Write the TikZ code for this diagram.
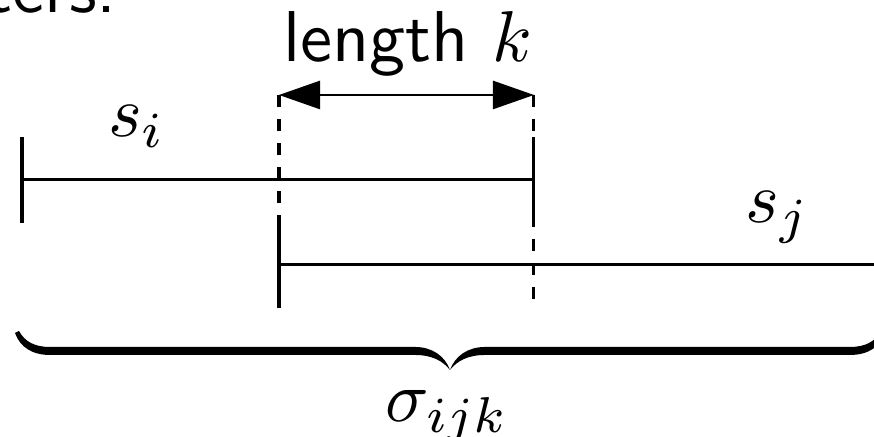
\documentclass[tikz,border=0pt]{standalone}
\usepackage{fontspec}
\usetikzlibrary{arrows.meta,calc}

\begin{document}
\begin{tikzpicture}[
        x=0.1389pt, y=-0.1389pt,
        font=\sffamily,
        seg/.style={line width=0.42pt},
        guide/.style={line width=0.42pt, dash pattern=on 1.67pt off 1.67pt},
        span/.style={{Triangle[length=5.7pt,width=3.9pt]}-{Triangle[length=5.7pt,width=3.9pt]}, line width=0.33pt},
        lbl/.style={inner sep=0pt, anchor=base}
    ]
    \useasboundingbox (0,0) rectangle (874,437);

    % End points of the two strings and of the overlap
    \coordinate (si-l) at (22,180);
    \coordinate (si-r) at (534,180);
    \coordinate (sj-l) at (279,265);
    \coordinate (sj-r) at (880,265);
    \coordinate (k-l)  at (279,95);
    \coordinate (k-r)  at (534,95);

    % Tail of the previous line of the slide
    \node[lbl, anchor=base west] (prev) at (-15,13) {ters.};

    % ---- Strings ----
    \draw[seg] (si-l) -- (si-r);
    \draw[seg] (sj-l) -- (sj-r);
    \foreach \p in {si-l, si-r, sj-l}
        \draw[seg] ($(\p)+(0,-43)$) -- ($(\p)+(0,43)$);
    \node[lbl] (si) at (137,137) {$s_i$};
    \node[lbl] (sj) at (778,223) {$s_j$};

    % ---- Overlap of length k ----
    \draw[guide] (k-l) -- ($(sj-l)+(0,-43)$);
    \draw[guide] (k-r) -- ($(si-r)+(0,125)$);
    \draw[span] (k-l) -- (k-r);
    \node[lbl] (len) at (408,62) {length $k$};

    % ---- Brace over the whole ----
    \fill (19,331) .. controls (25,342) and (35,347) .. (50,347) -- (415,347)
        .. controls (432,347) and (445,356) .. (450,370)
        .. controls (455,356) and (468,347) .. (485,347) -- (850,347)
        .. controls (865,347) and (875,342) .. (881,331)
        -- (885,333) .. controls (880,347) and (868,355) .. (850,355) -- (485,355)
        .. controls (468,355) and (457,361) .. (450,370)
        .. controls (443,361) and (432,355) .. (415,355) -- (50,355)
        .. controls (32,355) and (20,347) .. (15,333) -- cycle;
    \node[lbl] (sig) at (447,422) {$\sigma_{ijk}$};
\end{tikzpicture}
\end{document}
